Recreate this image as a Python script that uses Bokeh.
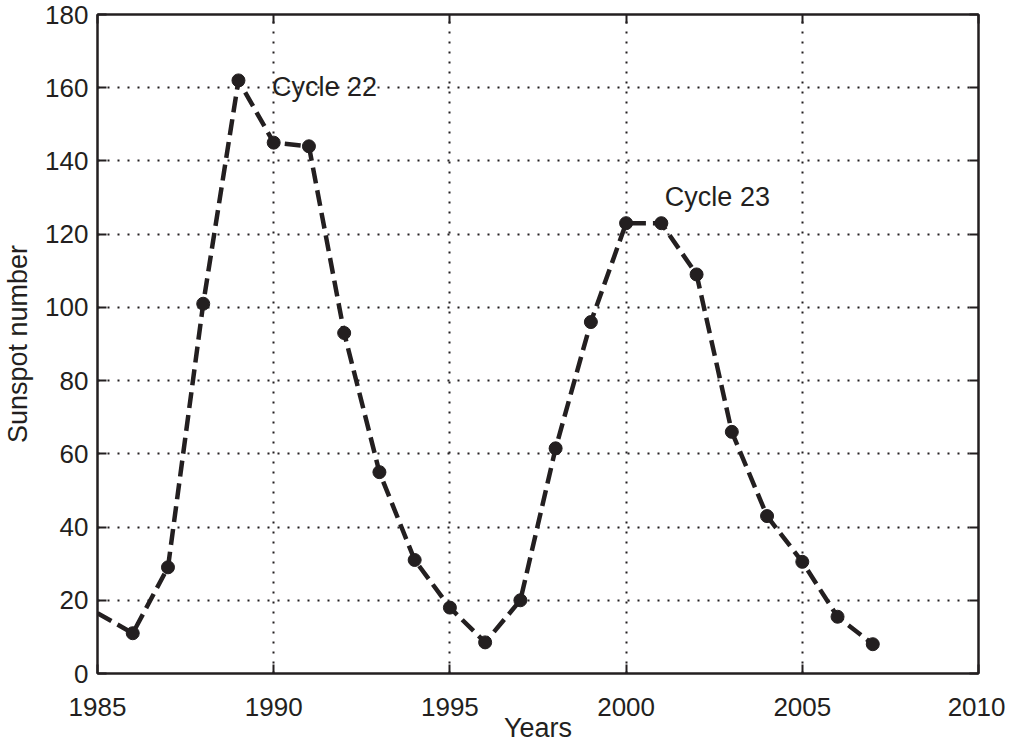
from bokeh.plotting import figure
from bokeh.models import FixedTicker, LinearAxis, Range1d, Label, CustomJSTickFormatter
from bokeh.embed import file_html
from bokeh.resources import INLINE

# ---- data ----
years = [1985, 1986, 1987, 1988, 1989, 1990, 1991, 1992, 1993, 1994, 1995, 1996,
         1997, 1998, 1999, 2000, 2001, 2002, 2003, 2004, 2005, 2006, 2007]
sunspots = [16.5, 11, 29, 101, 162, 145, 144, 93, 55, 31, 18, 8.5,
            20, 61.5, 96, 123, 123, 109, 66, 43, 30.5, 15.5, 8]
x_ticks = [1985, 1990, 1995, 2000, 2005, 2010]
y_ticks = [0, 20, 40, 60, 80, 100, 120, 140, 160, 180]
annotations = ["Cycle 22", "Cycle 23"]
x_label = "Years"
y_label = "Sunspot number"

INK = "#231f20"
FONT = "Liberation Sans"
FS_TICK = "26px"
FS_LABEL = "27px"

p = figure(width=1005, height=745, output_backend="svg", toolbar_location=None,
           x_range=Range1d(1985, 2010), y_range=Range1d(0, 180),
           min_border_left=10, min_border_top=14, min_border_right=27, min_border_bottom=10,
           background_fill_color="white", border_fill_color="white")
p.outline_line_color = INK
p.outline_line_width = 2
p.outline_line_alpha = 1

# grid
for g in (p.xgrid[0], p.ygrid[0]):
    g.grid_line_color = INK
    g.grid_line_width = 2
    g.grid_line_dash = "2 8"
p.xgrid[0].ticker = FixedTicker(ticks=x_ticks)
p.ygrid[0].ticker = FixedTicker(ticks=y_ticks)

def style_axis(ax, ticks, show_labels=True):
    ax.ticker = FixedTicker(ticks=ticks)
    ax.axis_line_color = INK
    ax.axis_line_width = 2
    ax.major_tick_line_color = INK
    ax.major_tick_line_width = 2
    ax.major_tick_in = 9
    ax.major_tick_out = 0
    ax.minor_tick_line_color = None
    ax.major_label_text_font = FONT
    ax.major_label_text_font_size = FS_TICK
    ax.major_label_text_color = INK
    ax.axis_label_text_font = FONT
    ax.axis_label_text_font_size = FS_LABEL
    ax.axis_label_text_font_style = "normal"
    ax.axis_label_text_color = INK
    if not show_labels:
        ax.formatter = CustomJSTickFormatter(code="return ''")
        ax.major_label_standoff = 0

xa = p.xaxis[0]
ya = p.yaxis[0]
style_axis(xa, x_ticks)
style_axis(ya, y_ticks)
xa.axis_label = x_label
ya.axis_label = y_label
xa.major_label_standoff = 24
xa.axis_label_standoff = -6
ya.major_label_standoff = 9
ya.axis_label_standoff = 9

top = LinearAxis()
style_axis(top, x_ticks, show_labels=False)
p.add_layout(top, "above")
right = LinearAxis()
style_axis(right, y_ticks, show_labels=False)
p.add_layout(right, "right")

# data line (dashed) and markers
p.line(years, sunspots, line_color=INK, line_width=4.5, line_dash="16 7")
p.scatter(years[1:], sunspots[1:], size=13, marker="circle", fill_color=INK, line_color=INK)

p.add_layout(Label(x=1989.95, y=160.3, text=annotations[0], text_font=FONT, text_font_size=FS_LABEL,
                   text_color=INK, text_baseline="middle"))
p.add_layout(Label(x=2001.1, y=130.2, text=annotations[1], text_font=FONT, text_font_size=FS_LABEL,
                   text_color=INK, text_baseline="middle"))

open("out.html", "w").write(file_html(p, INLINE))
